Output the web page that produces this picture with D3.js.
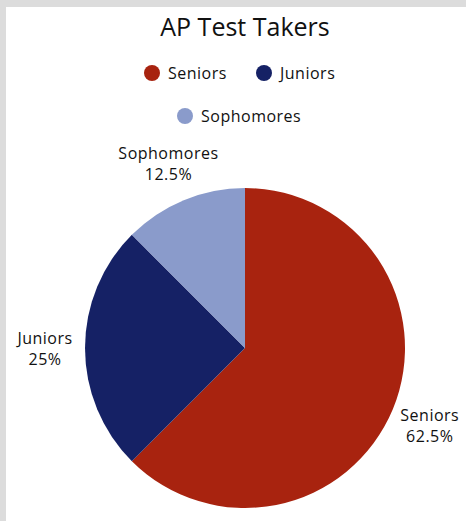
<!DOCTYPE html>
<html>
<head>
<meta charset="utf-8">
<script src="https://cdn.jsdelivr.net/npm/d3@7"></script>
<style>
  body { margin: 0; background: #dcdcdc; }
  svg { display: block; font-family: "Open Sans", sans-serif; }
</style>
</head>
<body>
<svg id="chart"></svg>
<script>
const categories = ["Seniors", "Juniors", "Sophomores"];
const values = [62.5, 25, 12.5];
const labels = ["62.5%", "25%", "12.5%"];
const colors = ["#a8230f", "#152165", "#8a9bcb"];

const svg = d3.select("#chart")
    .attr("width", 466)
    .attr("height", 521);

// white panel with grey edge on top / left
svg.append("rect")
    .attr("x", 6)
    .attr("y", 7)
    .attr("width", 460)
    .attr("height", 514)
    .attr("fill", "#fff");

svg.append("text")
    .attr("x", 245)
    .attr("y", 36)
    .attr("text-anchor", "middle")
    .attr("font-size", 25)
    .attr("fill", "#111")
    .text("AP Test Takers");

// legend
const legendPos = [[152, 73], [264, 73], [185, 116]];
const legend = svg.selectAll(".legend")
    .data(categories)
    .enter().append("g")
    .attr("transform", (d, i) => `translate(${legendPos[i][0]},${legendPos[i][1]})`);

legend.append("circle")
    .attr("r", 8)
    .attr("fill", (d, i) => colors[i]);

legend.append("text")
    .attr("x", 16)
    .attr("dy", "0.35em")
    .attr("font-size", 16)
    .attr("letter-spacing", 0.5)
    .attr("fill", "#111")
    .text(d => d);

// pie
const cx = 245, cy = 348, radius = 160;
const pie = d3.pie().sort(null);
const arc = d3.arc().innerRadius(0).outerRadius(radius);
const labelArc = d3.arc().innerRadius(200).outerRadius(200);

const g = svg.append("g").attr("transform", `translate(${cx},${cy})`);
const arcs = pie(values);

g.selectAll("path")
    .data(arcs)
    .enter().append("path")
    .attr("d", arc)
    .attr("fill", (d, i) => colors[i]);

const lab = g.selectAll(".lab")
    .data(arcs)
    .enter().append("text")
    .attr("transform", d => `translate(${labelArc.centroid(d)})`)
    .attr("text-anchor", "middle")
    .attr("font-size", 16)
    .attr("letter-spacing", 0.5)
    .attr("fill", "#111");

lab.append("tspan")
    .attr("x", 0)
    .attr("y", -4)
    .text((d, i) => categories[i]);

lab.append("tspan")
    .attr("x", 0)
    .attr("y", 17)
    .text((d, i) => labels[i]);
</script>
</body>
</html>
